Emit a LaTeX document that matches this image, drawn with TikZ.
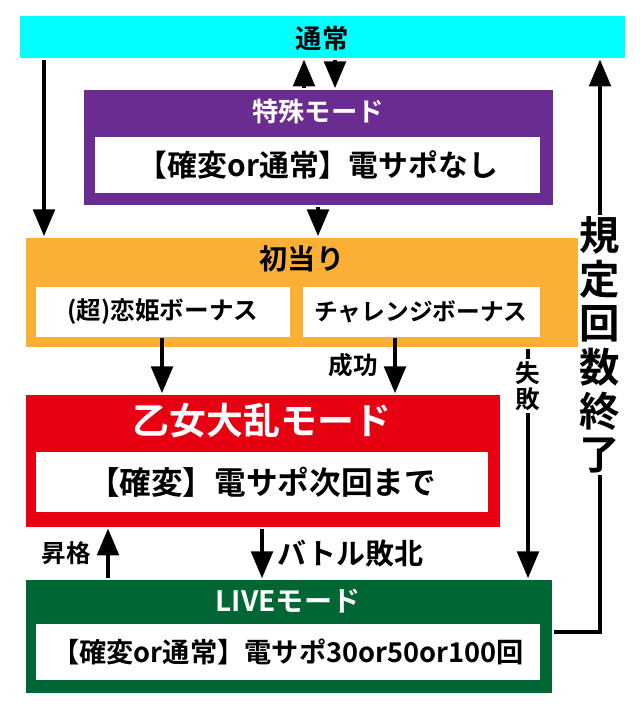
\documentclass[tikz,border=0pt]{standalone}
\usepackage{fontspec}
\setmainfont{Noto Sans CJK JP Bold}
\usetikzlibrary{arrows}
\definecolor{tsujo}{HTML}{00FFFF}
\definecolor{tokushu}{HTML}{6A2C91}
\definecolor{hatsu}{HTML}{F9B035}
\definecolor{otome}{HTML}{E60012}
\definecolor{live}{HTML}{006633}
\begin{document}
\begin{tikzpicture}[x=0.02cm,y=-0.02cm,>=triangle 45,
  mode box/.style={draw=white,line width=1pt,inner sep=0pt,anchor=north west},
  title node/.style={font=\fontsize{15}{17}\selectfont,text=white},
  inner box/.style={fill=white,inner sep=0pt,anchor=north west,font=\fontsize{14}{16}\selectfont},
  flow/.style={->,line width=2.6pt,shorten >=0pt},
  side label/.style={font=\fontsize{13}{15}\selectfont,fill=white,inner sep=1pt}]
  \useasboundingbox (0,0) rectangle (640,710);
  % mode boxes
  \node[mode box,fill=tsujo,minimum width=12.14cm,minimum height=0.88cm] (tsujo) at (18,14) {};
  \node[font=\fontsize{15}{17}\selectfont] at (322,38) {通常};
  \node[mode box,fill=tokushu,minimum width=9.42cm,minimum height=2.34cm] (tokushu) at (82,88) {};
  \node[title node] at (318,112) {特殊モード};
  \node[inner box,minimum width=8.9cm,minimum height=1.12cm] (tokushuin) at (95,137) {};
  \node[font=\fontsize{17}{19}\selectfont] at (318,165) {【確変or通常】電サポなし};
  \node[mode box,fill=hatsu,minimum width=11.12cm,minimum height=2.22cm] (hatsu) at (24,236) {};
  \node[font=\fontsize{16}{18}\selectfont] at (302,259) {初当り};
  \node[inner box,minimum width=5.08cm,minimum height=1.0cm] (koihime) at (36,287) {};
  \node[font=\fontsize{14}{16}\selectfont] at (163,312) {(超)恋姫ボーナス};
  \node[inner box,minimum width=4.74cm,minimum height=1.0cm] (challenge) at (303,287) {};
  \node[font=\fontsize{13.5}{15}\selectfont] at (421,312) {チャレンジボーナス};
  \node[mode box,fill=otome,minimum width=9.52cm,minimum height=2.68cm] (otome) at (24,393) {};
  \node[title node,font=\fontsize{21}{23}\selectfont] at (262,421) {乙女大乱モード};
  \node[inner box,minimum width=9.04cm,minimum height=1.2cm] (otomein) at (36,452) {};
  \node[font=\fontsize{18}{20}\selectfont] at (262,482) {【確変】電サポ次回まで};
  \node[mode box,fill=live,minimum width=10.56cm,minimum height=2.3cm] (live) at (24,578) {};
  \node[title node,font=\fontsize{16}{18}\selectfont] at (288,601) {LIVEモード};
  \node[inner box,minimum width=10.08cm,minimum height=1.12cm] (livein) at (36,624) {};
  \node[font=\fontsize{15.5}{17}\selectfont] at (288,652) {【確変or通常】電サポ30or50or100回};
  % connectors
  \draw[flow] (tsujo.south west) ++(26,0) coordinate (a1) -- (a1 |- hatsu.north);
  \draw[flow] (tokushu.north west) ++(222,0) coordinate (a2) -- (a2 |- tsujo.south);
  \draw[flow] (tsujo.south west) ++(317,0) coordinate (a3) -- (a3 |- tokushu.north);
  \draw[flow] (tokushu.south west) ++(236,0) coordinate (a4) -- (a4 |- hatsu.north);
  \draw[flow] (koihime.south west) ++(126,0) coordinate (a5) -- (a5 |- otome.north);
  \draw[flow] (challenge.south west) ++(92,0) coordinate (a6) -- (a6 |- otome.north)
    node[midway,left=5pt,font=\fontsize{14}{16}\selectfont] {成功};
  \draw[flow] (hatsu.south west) ++(504,0) coordinate (a7) -- (a7 |- live.north);
  \node[side label,align=center,font=\fontsize{14}{15}\selectfont] at (528,386) {失\\敗};
  \draw[flow] (otome.south west) ++(238,0) coordinate (a8) -- (a8 |- live.north)
    node[midway,right=4pt,font=\fontsize{16.5}{18}\selectfont] {バトル敗北};
  \draw[flow] (live.north west) ++(84,0) coordinate (a9) -- (a9 |- otome.south)
    node[midway,left=5pt,font=\fontsize{14}{16}\selectfont] {昇格};
  \coordinate (r1) at (600,632);
  \draw[flow] (live.east |- r1) -- (r1) -- (r1 |- tsujo.south);
  \node[side label,align=center,font=\fontsize{23}{25}\selectfont] at (600,345) {規\\定\\回\\数\\終\\了};
\end{tikzpicture}
\end{document}
